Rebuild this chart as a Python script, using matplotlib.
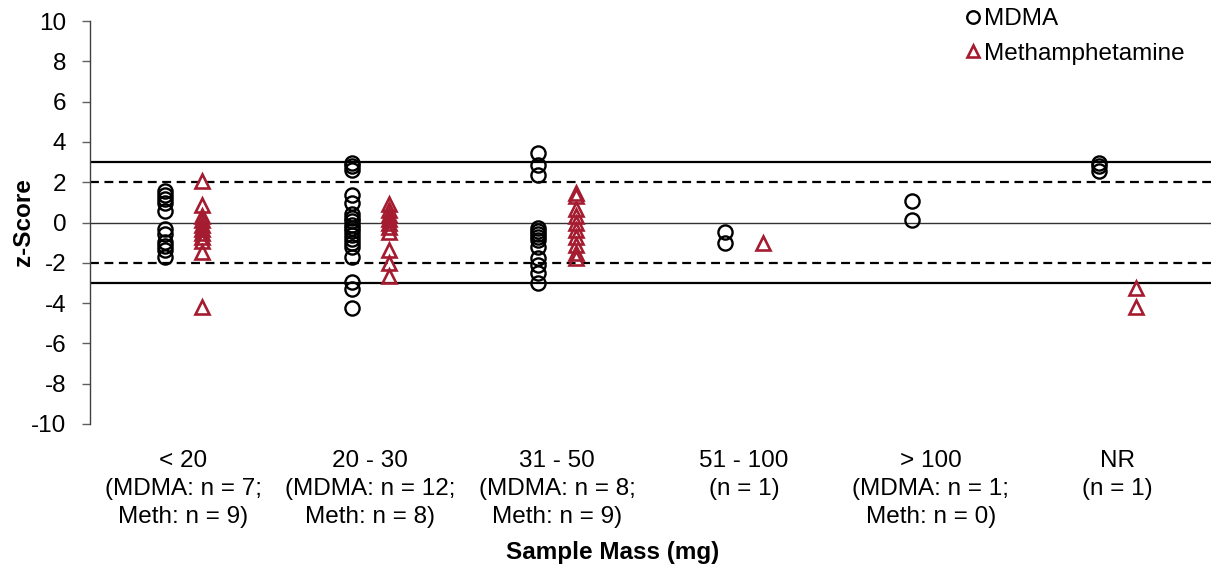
import matplotlib
matplotlib.use("Agg")
import matplotlib.pyplot as plt
from matplotlib.lines import Line2D

plt.rcParams['font.family'] = ['Liberation Sans', 'DejaVu Sans']

categories = [
    "< 20\n(MDMA: n = 7;\nMeth: n = 9)",
    "20 - 30\n(MDMA: n = 12;\nMeth: n = 8)",
    "31 - 50\n(MDMA: n = 8;\nMeth: n = 9)",
    "51 - 100\n(n = 1)",
    "> 100\n(MDMA: n = 1;\nMeth: n = 0)",
    "NR\n(n = 1)",
]

mdma_scores = [
    [1.55, 1.35, 1.15, 0.95, 0.55, -0.3, -0.55, -0.95, -1.15, -1.35, -1.7],
    [2.95, 2.8, 2.6, 1.35, 0.95, 0.4, 0.2, 0.05, -0.1, -0.25, -0.4, -0.6,
     -0.8, -1.0, -1.2, -1.7, -2.95, -3.3, -4.25],
    [3.45, 2.85, 2.35, -0.25, -0.4, -0.55, -0.7, -0.85, -1.2, -1.75, -2.1,
     -2.5, -3.0],
    [-0.45, -1.0],
    [1.05, 0.12],
    [2.95, 2.78, 2.55],
]

meth_scores = [
    [2.05, 0.85, 0.3, 0.1, -0.1, -0.3, -0.5, -0.7, -0.9, -1.45, -4.2],
    [0.9, 0.6, 0.35, 0.15, 0.0, -0.2, -0.45, -1.35, -2.0, -2.65],
    [1.45, 1.3, 0.65, 0.3, 0.0, -0.35, -0.7, -1.1, -1.5, -1.75],
    [-1.0],
    [],
    [-3.25, -4.18],
]

y_ticks = [10, 8, 6, 4, 2, 0, -2, -4, -6, -8, -10]

meth_color = "#A51C30"
fs = 17.5

fig = plt.figure(figsize=(12.11, 5.70), dpi=100)
ax = fig.add_axes([90 / 1211, 1 - 424 / 570, 1 - 90 / 1211, (424 - 21) / 570])

# acceptance limits
ax.axhline(3, color="black", lw=1.6, zorder=1)
ax.axhline(-3, color="black", lw=1.6, zorder=1)
ax.axhline(2, color="black", lw=1.6, ls=(0, (4, 2.5)), zorder=1)
ax.axhline(-2, color="black", lw=1.6, ls=(0, (4, 2.5)), zorder=1)
ax.axhline(0, color="#333333", lw=1.0, zorder=1)

offset = 0.1
for i, (m, t) in enumerate(zip(mdma_scores, meth_scores)):
    xc = i + 0.5
    ax.plot([xc - offset] * len(m), m, ls="none", marker="o", ms=10.2,
            mfc="none", mec="black", mew=1.7, zorder=3)
    if t:
        ax.plot([xc + offset] * len(t), t, ls="none", marker="^", ms=9.8,
                mfc="none", mec=meth_color, mew=1.9, zorder=3)

ax.set_xlim(0, 6)
ax.set_ylim(-10, 10)
ax.set_yticks(y_ticks)
ax.set_yticklabels([str(v) for v in y_ticks], fontsize=fs)
ax.set_xticks([i + 0.5 for i in range(len(categories))])
ax.set_xticklabels(categories, fontsize=fs, linespacing=1.34, va="top")
ax.tick_params(axis="x", length=0, pad=19)
ax.tick_params(axis="y", length=6, width=1, color="#606060", pad=11)

for side in ("top", "right", "bottom"):
    ax.spines[side].set_visible(False)
ax.spines["left"].set_color("#404040")
ax.spines["left"].set_linewidth(1.0)

fig.text(24 / 1211, 1 - 222 / 570, "z-Score", fontsize=fs, fontweight="bold",
         rotation=90, ha="center", va="center")
fig.text(613 / 1211, 1 - 552 / 570, "Sample Mass (mg)", fontsize=fs,
         fontweight="bold", ha="center", va="center")

handles = [
    Line2D([], [], ls="none", marker="o", ms=9, mfc="none", mec="black", mew=1.7),
    Line2D([], [], ls="none", marker="^", ms=8.5, mfc="none", mec=meth_color, mew=1.9),
]
ax.legend(handles, ["MDMA", "Methamphetamine"], loc="upper left",
          bbox_to_anchor=(963 / 1211, 1 - 6 / 570), bbox_transform=fig.transFigure,
          frameon=False, fontsize=fs, handlelength=0.6, handletextpad=0.15,
          labelspacing=0.5, borderaxespad=0, borderpad=0.1)

fig.savefig("out.png", dpi=100)
